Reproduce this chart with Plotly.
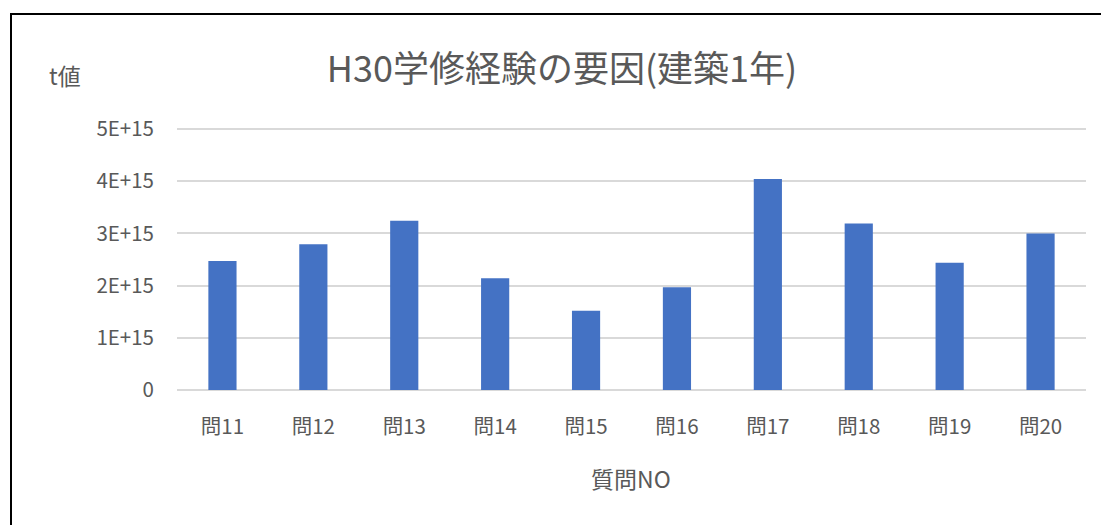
import plotly.graph_objects as go

categories = ["問11", "問12", "問13", "問14", "問15", "問16", "問17", "問18", "問19", "問20"]
t_values = [2.47e15, 2.79e15, 3.24e15, 2.14e15, 1.52e15, 1.97e15, 4.04e15, 3.19e15, 2.44e15, 3.00e15]
y_tickvals = [0, 1e15, 2e15, 3e15, 4e15, 5e15]
y_ticktext = ["0", "1E+15", "2E+15", "3E+15", "4E+15", "5E+15"]

title_text = "H30学修経験の要因(建築1年)"
x_title = "質問NO"
y_title = "t値"

FONT = "Noto Sans CJK JP, Noto Sans, sans-serif"
GREY = "#595959"

W, H = 1101, 525
L, R, T, B = 177, 15, 125, 135
pw, ph = W - L - R, H - T - B
# value at the top of the plot area so that 5E+15 sits at y=129 px
y_top = 5e15 * ph / (H - B - 129)

def px_x(px):
    return (px - L) / pw

def px_y(py):
    return (H - B - py) / ph

fig = go.Figure(go.Bar(x=categories, y=t_values, marker=dict(color="#4472C4", line=dict(width=0))))

fig.update_layout(
    width=W, height=H,
    margin=dict(l=L, r=R, t=T, b=B, autoexpand=False),
    paper_bgcolor="white", plot_bgcolor="white",
    bargap=0.69,
    showlegend=False,
    font=dict(family=FONT, color=GREY, size=20),
    title=dict(text=title_text, x=562 / W, xanchor="center", y=1 - 69 / H, yanchor="middle",
               xref="container", yref="container",
               font=dict(family=FONT, size=36, color=GREY)),
)
fig.update_xaxes(showgrid=False, showline=False, zeroline=False, ticks="",
                 tickfont=dict(size=20.5, color=GREY), ticklabelstandoff=22)
fig.update_yaxes(range=[0, y_top], tickvals=y_tickvals, ticktext=y_ticktext,
                 showgrid=True, gridcolor="#D9D9D9", gridwidth=1.5,
                 zeroline=True, zerolinecolor="#D9D9D9", zerolinewidth=1.5,
                 showline=False, ticks="", tickfont=dict(size=20.5, color=GREY),
                 ticklabelstandoff=22)

fig.add_annotation(text=x_title, xref="paper", yref="paper", x=px_x(631), y=px_y(478),
                   showarrow=False, font=dict(size=23, color=GREY), xanchor="center", yanchor="middle")
fig.add_annotation(text=y_title, xref="paper", yref="paper", x=px_x(65), y=px_y(75),
                   showarrow=False, font=dict(size=23, color=GREY), xanchor="center", yanchor="middle")

fig.add_shape(type="rect", xref="paper", yref="paper",
              x0=px_x(11), x1=px_x(1130), y0=px_y(560), y1=px_y(14),
              line=dict(color="black", width=2), fillcolor="rgba(0,0,0,0)", layer="above")

fig.write_html("out.html", config={"displayModeBar": False},
               post_script="document.body.style.margin='0';document.body.style.overflow='hidden';")
